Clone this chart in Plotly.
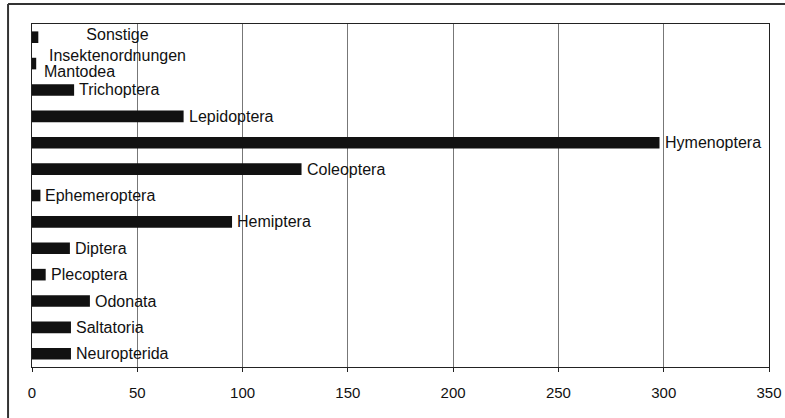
import plotly.graph_objects as go

categories = ["Sonstige Insektenordnungen", "Mantodea", "Trichoptera", "Lepidoptera",
              "Hymenoptera", "Coleoptera", "Ephemeroptera", "Hemiptera", "Diptera",
              "Plecoptera", "Odonata", "Saltatoria", "Neuropterida"]
labels = ["Sonstige<br>Insektenordnungen", "Mantodea", "Trichoptera", "Lepidoptera",
          "Hymenoptera", "Coleoptera", "Ephemeroptera", "Hemiptera", "Diptera",
          "Plecoptera", "Odonata", "Saltatoria", "Neuropterida"]
values = [3, 2, 20, 72, 298, 128, 4, 95, 18, 6.5, 27.5, 18.5, 18.5]
tick_vals = [0, 50, 100, 150, 200, 250, 300, 350]

FONT = "Liberation Sans, Arial, sans-serif"

fig = go.Figure()
fig.add_trace(go.Bar(
    x=values, y=categories, orientation="h",
    marker=dict(color="#111111", line=dict(width=0)),
    width=0.44, showlegend=False, hoverinfo="x+y",
))

annotations = []
for i, (cat, lab, v) in enumerate(zip(categories, labels, values)):
    if i == 0:
        annotations.append(dict(x=v, y=cat, xref="x", yref="y", text=lab, showarrow=False,
                                xanchor="left", align="center", xshift=9, yshift=-8,
                                font=dict(family=FONT, size=16, color="#111111")))
    elif i == 1:
        annotations.append(dict(x=v, y=cat, xref="x", yref="y", text=lab, showarrow=False,
                                xanchor="left", xshift=6, yshift=-8,
                                font=dict(family=FONT, size=16, color="#111111")))
    else:
        annotations.append(dict(x=v, y=cat, xref="x", yref="y", text=lab, showarrow=False,
                                xanchor="left", xshift=3, yshift=0,
                                font=dict(family=FONT, size=16, color="#111111")))

n = len(categories)
fig.update_layout(
    width=785, height=418,
    margin=dict(l=32, r=16, t=24, b=51, autoexpand=False),
    paper_bgcolor="white", plot_bgcolor="white",
    font=dict(family=FONT, size=15, color="#111111"),
    annotations=annotations,
    xaxis=dict(range=[0, 350], tickvals=tick_vals, showgrid=True, gridcolor="#777777",
               gridwidth=1, zeroline=False, showline=True, linecolor="#222222",
               linewidth=1, mirror=True, ticks="outside", ticklen=4, tickcolor="#222222",
               automargin=False, ticklabelstandoff=8,
               tickfont=dict(family=FONT, size=15, color="#111111")),
    yaxis=dict(range=[n - 0.5, -0.5], showticklabels=False, showgrid=False, zeroline=False,
               showline=True, linecolor="#222222", linewidth=1, mirror=True, ticks="",
               automargin=False),
    shapes=[
        dict(type="line", xref="paper", yref="paper", x0=-0.0325, x1=1.1, y0=1.058, y1=1.058,
             line=dict(color="#333333", width=2), layer="below"),
        dict(type="line", xref="paper", yref="paper", x0=-0.0325, x1=-0.0325, y0=-0.3, y1=1.058,
             line=dict(color="#333333", width=2), layer="below"),
    ],
)

fig.write_html("out.html",
               config={"displayModeBar": False},
               post_script="document.body.style.margin='0';document.body.style.overflow='hidden';")
